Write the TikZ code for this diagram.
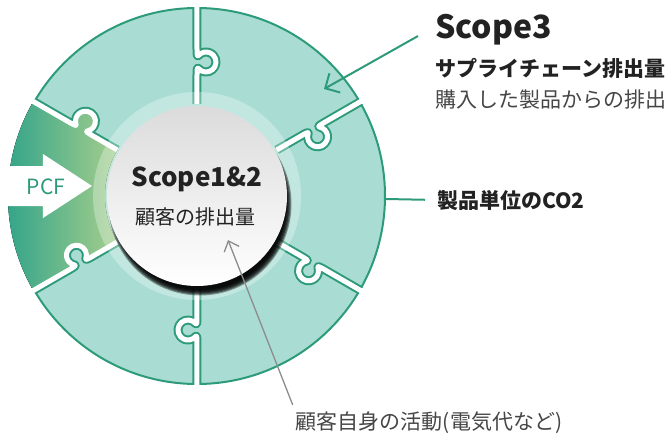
\documentclass[tikz,border=0pt]{standalone}
\usepackage{fontspec}
\setmainfont{Noto Sans CJK JP}
\usetikzlibrary{arrows.meta}
\definecolor{piecefill}{RGB}{169,221,212}
\definecolor{pieceline}{RGB}{45,155,122}
\definecolor{pcfteal}{RGB}{44,162,138}
\definecolor{pcfgreen}{RGB}{98,173,116}
\definecolor{pcflight}{RGB}{165,206,140}
\definecolor{inkdark}{RGB}{34,34,34}
\definecolor{inkgray}{RGB}{70,70,70}
\definecolor{pointergray}{RGB}{140,140,140}

% one seam of the ring along +x, its tab bulging clockwise
\newcommand\seamout[1]{(92,0) -- (121,0) .. controls (125,0) and (129.1,-0.05) .. (127.57,-1.34)
  arc[start angle=130,end angle=410,radius=10]
  .. controls (138.9,-0.05) and (143,0) .. (147,0) -- (#1,0)}
\newcommand\seamin{-- (147,0) .. controls (143,0) and (138.9,-0.05) .. (140.43,-1.34)
  arc[start angle=50,end angle=-230,radius=10]
  .. controls (129.1,-0.05) and (125,0) .. (121,0) -- (92,0)}

\begin{document}
\begin{tikzpicture}[x=1pt,y=1pt,
  seamedge/.style={draw=pieceline,line width=9pt,line join=round},
  seamgap/.style={draw=white,line width=5pt,line join=round},
  leader/.style={draw=pieceline,line width=2pt},
  pointer/.style={draw=pointergray,line width=1.3pt},
  bold21/.style={font=\bfseries\fontsize{21}{25}\selectfont,text=inkdark,inner sep=0pt},
  plain21/.style={font=\fontsize{21}{25}\selectfont,text=inkgray,inner sep=0pt}]
\useasboundingbox (-197,-244) rectangle (475,196);

% puzzle ring
\node[circle,minimum size=376pt,fill=piecefill,draw=pieceline,line width=2pt] (ring) at (0,0) {};
\begin{scope}
  \clip (0,0) circle (189);
  \foreach \a in {90,30,-30,-90,150,210}
    \draw[seamedge,rotate=\a] \seamout{196};
\end{scope}
% PCF piece
\fill[left color=pcfteal,middle color=pcfgreen,right color=pcflight]
  {[rotate=210] \seamout{189}} arc[start angle=210,end angle=150,radius=189]
  {[rotate=150] -- (189,0) \seamin} arc[start angle=150,end angle=210,radius=92] -- cycle;
\foreach \a in {90,30,-30,-90,150,210}
  \draw[seamgap,rotate=\a] \seamout{200};
\fill[white] (-200,30) -- (-154,30) -- (-154,42) -- (-105,10) -- (-154,-22) -- (-154,-10) -- (-200,-10) -- cycle;
\node[text=pieceline,font=\fontsize{21}{25}\selectfont] (pcf) at (-151,9) {PCF};

% glow, shadow and centre disc
\fill[white,opacity=.3] (0,0) circle (104);
\foreach \k in {0,...,5}
  \fill[black,opacity=.38] (3,-8) circle ({91.5-1.1*\k});
\node[circle,minimum size=180pt,top color=black!14,bottom color=white] (core) at (0,0) {};
\node[anchor=base,font=\bfseries\fontsize{26}{30}\selectfont,text=inkdark] (scope12) at (0,10) {Scope1\&2};
\node[font=\fontsize{20}{24}\selectfont,text=inkdark] (own) at (-1,-21) {顧客の排出量};

% labels
\node[anchor=base west,font=\bfseries\fontsize{32}{36}\selectfont,text=inkdark,inner sep=0pt] (scope3) at (238,158) {Scope3};
\node[bold21,anchor=west] (chain) at (238,128) {サプライチェーン排出量};
\node[plain21,anchor=west] (bought) at (238,96) {購入した製品からの排出};
\node[bold21,anchor=west] (unit) at (240,-4) {製品単位のCO2};
\node[plain21] (activity) at (232,-227) {顧客自身の活動(電気代など)};

\coordinate (s3tip) at (127,107);
\draw[leader,-{Straight Barb[length=11pt,width=22pt]}] ([shift={(-17,2)}]scope3.base west) -- (s3tip);
\draw[leader,shorten >=12pt] ([yshift=-3pt]ring.east) -- (unit.west);
\coordinate (coretip) at (31,-44);
\draw[pointer,-{Straight Barb[length=9pt,width=16pt]}] ([shift={(-3,7)}]activity.north west) -- (coretip);
\end{tikzpicture}
\end{document}
